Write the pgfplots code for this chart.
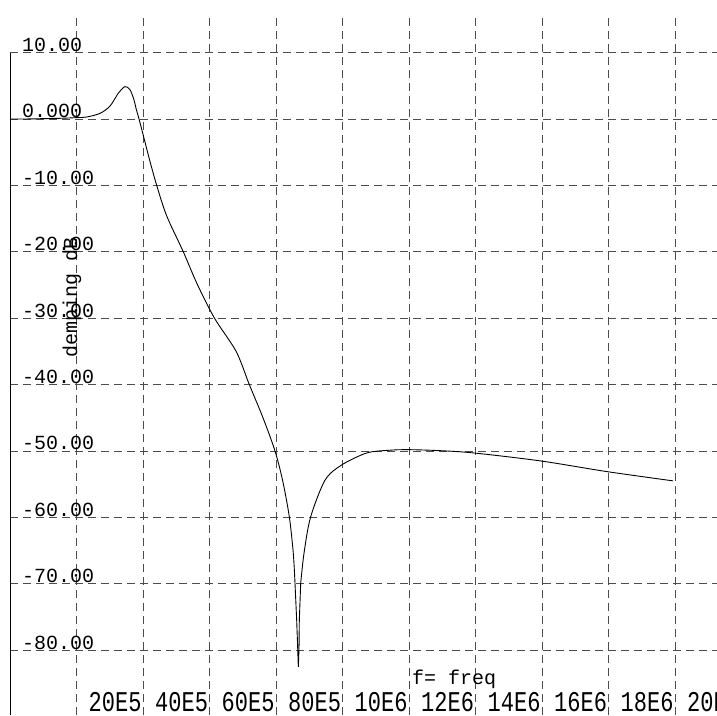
\documentclass[border=0pt]{standalone}
\usepackage{fontspec}
\setmonofont{Liberation Mono}
\usepackage{graphicx}
\usepackage{pgfplots}
\pgfplotsset{compat=1.18}
\newcommand\xl[1]{\scalebox{1}[1.3]{#1}}
\pgfplotstableread{
f dB
0 0
0.5 0.0
1.0 0.05
1.5 0.1
2.0 0.2
2.31 0.3
2.71 0.85
3.01 1.96
3.26 3.9
3.46 4.87
3.61 4.4
3.73 2.86
3.79 1.6
3.88 0
4.0 -2.3
4.2 -6.2
4.412 -10
4.713 -14.6
5.212 -20
5.624 -24.8
6.150 -30
6.800 -35.0
7.197 -40
7.609 -45
7.970 -50
8.201 -54.5
8.400 -59.9
8.520 -65.4
8.571 -69.9
}\curveA
\pgfplotstableread{
f dB
8.571 -69.9
8.622 -75.5
8.653 -79.8
8.671 -82.5
8.692 -79.8
8.701 -75.5
8.743 -69.9
}\curveB
\pgfplotstableread{
f dB
8.743 -69.9
8.842 -65.4
9.038 -60.0
9.474 -54.4
9.976 -52.1
10.728 -50.3
11.37 -49.9
11.97 -49.8
12.93 -49.95
13.955 -50.3
15.961 -51.5
17.946 -53.1
19.94 -54.5
}\curveC
\begin{document}
\begin{tikzpicture}
\begin{axis}[
  scale only axis, width=707pt, height=701pt,
  xmin=0, xmax=21.263, ymin=-89.76, ymax=15.81,
  clip=false,
  axis line style={draw=none},
  tick style={draw=none},
  xtick={2,4,6,8,10,12,14,16,18,20},
  xticklabels={\xl{20E5},\xl{40E5},\xl{60E5},\xl{80E5},\xl{10E6},\xl{12E6},\xl{14E6},\xl{16E6},\xl{18E6},\xl{20E6}},
  ytick={-80,-70,-60,-50,-40,-30,-20,-10,0,10},
  yticklabels={-80.00,-70.00,-60.00,-50.00,-40.00,-30.00,-20.00,-10.00,0.000,10.00},
  grid=major,
  major grid style={black!70, line width=0.8pt, dash pattern=on 8pt off 5pt},
  xticklabel style={font=\ttfamily\fontsize{22}{24}\selectfont, anchor=base west, inner sep=0pt, xshift=12pt, yshift=4pt},
  yticklabel style={font=\ttfamily\fontsize{20}{22}\selectfont, anchor=base west, inner sep=0pt, xshift=12pt, yshift=1pt},
  xlabel={f= freq},
  xlabel style={font=\ttfamily\fontsize{20}{22}\selectfont, at={(rel axis cs:0.5686,0.0428)}, anchor=base west, inner sep=0pt},
  ylabel={demping dB},
  ylabel style={font=\ttfamily\fontsize{20}{22}\selectfont, at={(rel axis cs:0.0877,0.596)}, anchor=center, inner sep=0pt},
]
\addplot[black, line width=0.9pt, mark=none, smooth, tension=0.5] table[x=f, y=dB] {\curveA};
\addplot[black, line width=0.9pt, mark=none] table[x=f, y=dB] {\curveB};
\addplot[black, line width=0.9pt, mark=none, smooth, tension=0.5] table[x=f, y=dB] {\curveC};
\draw[black, line width=1pt] (axis cs:0,10) -- (axis cs:0,-89.76);
\coordinate (bl) at (rel axis cs:0,0);
\coordinate (tr) at (rel axis cs:1,1);
\end{axis}
\pgfresetboundingbox
\path[use as bounding box] ([xshift=-10pt]bl) rectangle ([yshift=14pt]tr);
\end{tikzpicture}
\end{document}
